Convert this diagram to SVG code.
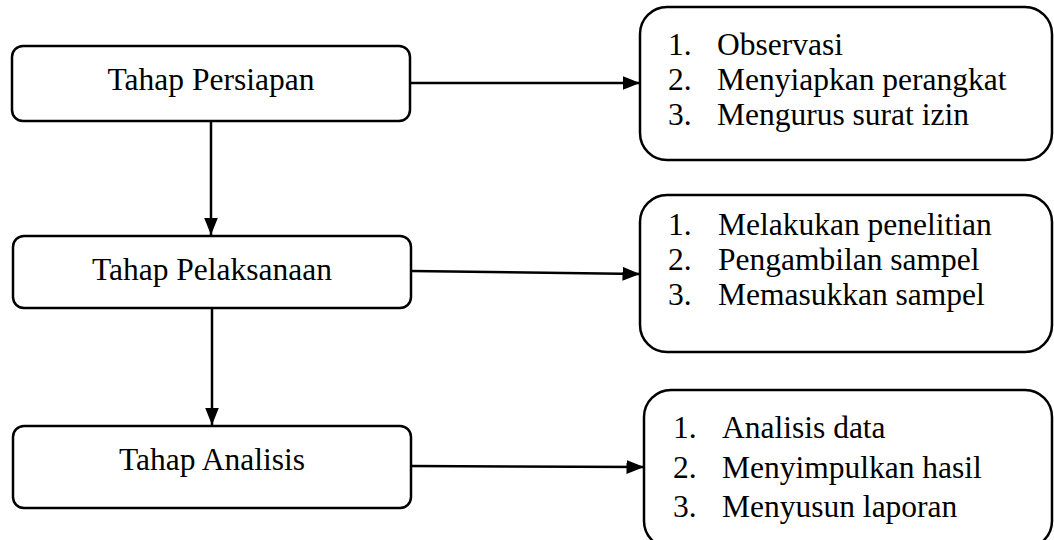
<svg xmlns="http://www.w3.org/2000/svg" width="1054" height="540" viewBox="0 0 1054 540">
<style>
.box{fill:#fff;stroke:#000;stroke-width:2.5}
.t{font-family:"Liberation Serif","Times New Roman",serif;font-size:31.5px;fill:#000}
.c{text-anchor:middle}
.ln{stroke:#000;stroke-width:2.5;fill:none}
</style>
<defs>
<marker id="ah" markerWidth="7" markerHeight="6" refX="7" refY="3" orient="auto" markerUnits="strokeWidth">
<path d="M0,0.2 L7,3 L0,5.8 Z" fill="#000"/>
</marker>
</defs>
<rect width="1054" height="540" fill="#fff"/>
<g id="connectors">
<line class="ln" x1="211" y1="121" x2="211" y2="235" marker-end="url(#ah)"/>
<line class="ln" x1="212" y1="308" x2="212" y2="425" marker-end="url(#ah)"/>
<line class="ln" x1="410" y1="83" x2="640" y2="83" marker-end="url(#ah)"/>
<line class="ln" x1="411" y1="271" x2="640" y2="274" marker-end="url(#ah)"/>
<line class="ln" x1="411" y1="466" x2="644" y2="467" marker-end="url(#ah)"/>
</g>
<g id="n1">
<rect class="box" x="12" y="46" width="398" height="75" rx="11"/>
<text class="t c" x="211" y="90">Tahap Persiapan</text>
</g>
<g id="n2">
<rect class="box" x="13" y="236" width="398" height="72" rx="11"/>
<text class="t c" x="212" y="280">Tahap Pelaksanaan</text>
</g>
<g id="n3">
<rect class="box" x="13" y="426" width="398" height="82" rx="11"/>
<text class="t c" x="212" y="470">Tahap Analisis</text>
</g>
<g id="r1">
<rect class="box" x="640" y="7" width="412" height="153" rx="27"/>
<text class="t" x="668" y="55">1.</text><text class="t" x="717" y="55">Observasi</text>
<text class="t" x="668" y="90">2.</text><text class="t" x="717" y="90">Menyiapkan perangkat</text>
<text class="t" x="668" y="124.5">3.</text><text class="t" x="717" y="124.5">Mengurus surat izin</text>
</g>
<g id="r2">
<rect class="box" x="640" y="195" width="412" height="157" rx="27"/>
<text class="t" x="668" y="235">1.</text><text class="t" x="718" y="235">Melakukan penelitian</text>
<text class="t" x="668" y="270">2.</text><text class="t" x="718" y="270">Pengambilan sampel</text>
<text class="t" x="668" y="305">3.</text><text class="t" x="718" y="305">Memasukkan sampel</text>
</g>
<g id="r3">
<rect class="box" x="644" y="390" width="408" height="158" rx="27"/>
<text class="t" x="673" y="437.5">1.</text><text class="t" x="722" y="437.5">Analisis data</text>
<text class="t" x="673" y="478">2.</text><text class="t" x="722" y="478">Menyimpulkan hasil</text>
<text class="t" x="673" y="517">3.</text><text class="t" x="722" y="517">Menyusun laporan</text>
</g>
</svg>
